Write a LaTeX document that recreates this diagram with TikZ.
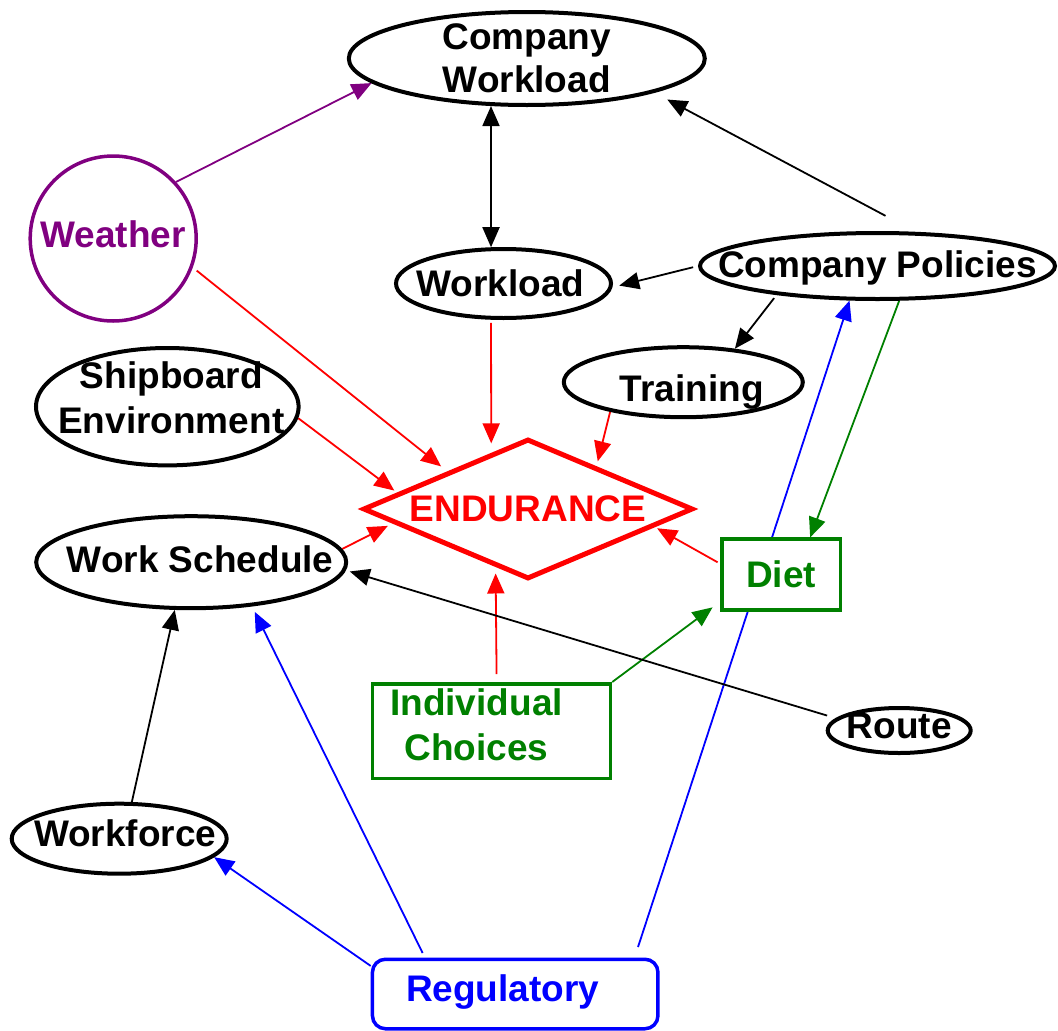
\documentclass[tikz,border=0pt]{standalone}
\usepackage{fontspec}
\setmainfont{Liberation Sans}
\usetikzlibrary{shapes.geometric,arrows.meta,backgrounds}
\definecolor{cpurple}{RGB}{128,0,128}
\definecolor{cgreen}{RGB}{0,128,0}
\definecolor{cblue}{RGB}{0,0,255}
\definecolor{cred}{RGB}{255,0,0}
\begin{document}
\begin{tikzpicture}[x=1pt,y=-1pt,
  ell/.style={draw, ellipse, line width=4pt, inner sep=0pt, fill=white},
  boxn/.style={draw, rectangle, line width=3.5pt, inner sep=0pt, fill=white},
  txt/.style={font=\bfseries\fontsize{37}{45}\selectfont, align=center, inner sep=0pt},
  conn/.style={line width=1.8pt, -{Triangle[length=20pt,width=17pt]}},
  both/.style={line width=1.8pt, {Triangle[length=20pt,width=17pt]}-{Triangle[length=20pt,width=17pt]}}
]
\useasboundingbox (0,0) rectangle (1058,1031);

% nodes
\node[ell, minimum width=356pt, minimum height=93pt] (cw) at (526.8,58.5) {};
\node[txt, font=\bfseries\fontsize{37}{43.3}\selectfont] (cwt) at (cw.center) {Company\\Workload};

\node[ell, draw=cpurple, line width=3.5pt, minimum width=166pt, minimum height=165pt] (wea) at (113.2,238.5) {};
\node[txt, text=cpurple, yshift=4pt] (weat) at (wea.center) {Weather};

\node[ell, minimum width=215pt, minimum height=69pt] (wl) at (503.5,283.5) {};
\node[txt, xshift=-3pt] (wlt) at (wl.center) {Workload};

\node[ell, minimum width=355pt, minimum height=66pt] (cp) at (877.5,266) {};
\node[txt, yshift=-2pt] (cpt) at (cp.center) {Company Policies};

\node[ell, minimum width=239pt, minimum height=70pt] (tr) at (683.3,382.2) {};
\node[txt, xshift=8.5pt, yshift=-9.5pt] (trt) at (tr.center) {Training};

\node[ell, minimum width=262.6pt, minimum height=117.4pt] (sh) at (167.3,406.7) {};
\node[txt, xshift=4pt, yshift=9pt] (sht) at (sh.center) {Shipboard\\Environment};

\node[draw=cred, diamond, line width=5pt, minimum width=330pt, minimum height=140pt, inner sep=0pt, fill=white] (end) at (528,509) {};
\node[txt, text=cred] (endt) at (end.center) {ENDURANCE};

\node[ell, minimum width=310pt, minimum height=92pt] (ws) at (191.2,562.2) {};
\node[txt, xshift=9pt, yshift=2.5pt] (wst) at (ws.center) {Work Schedule};

\node[boxn, draw=cgreen, minimum width=118.5pt, minimum height=70.6pt] (diet) at (781.2,574.5) {};
\node[txt, text=cgreen] (dietx) at (diet.center) {Diet};

\node[boxn, draw=cgreen, minimum width=238pt, minimum height=94.5pt] (ic) at (491.5,731) {};
\node[txt, text=cgreen, xshift=-15pt, yshift=6pt] (ict) at (ic.center) {Individual\\Choices};

\node[ell, minimum width=143pt, minimum height=45pt] (route) at (899.2,730.5) {};
\node[txt, yshift=4.5pt] (routet) at (route.center) {Route};

\node[ell, minimum width=215pt, minimum height=70pt] (wf) at (119.2,838.7) {};
\node[txt, xshift=6pt, yshift=5pt] (wft) at (wf.center) {Workforce};

\node[boxn, draw=cblue, rounded corners=13pt, minimum width=285.5pt, minimum height=69.5pt] (reg) at (515.2,994) {};
\node[txt, text=cblue, xshift=-12.5pt, yshift=2pt] (regt) at (reg.center) {Regulatory};

% connectors
\begin{scope}[on background layer]
\draw[conn, color=cpurple] (wea.42) -- (cw.189);
\draw[both] (cw.233) -- (wl.109);
\draw[conn, shorten <=34pt, shorten >=14.5pt] (cp.42) -- (cw.345.5);
\draw[conn, shorten <=5pt, shorten >=7pt] (cp.180) -- (wl.358);
\draw[conn, shorten <=4pt] (cp.196) -- (tr.33);

\draw[conn, color=cred, shorten <=5pt, shorten >=8pt] (wea.340) -- (end.155);
\draw[conn, color=cred, shorten <=3pt, shorten >=9pt] (wl.251) -- (end.123.5);
\draw[conn, color=cred, shorten >=5pt] (tr.202) -- (end.32);
\draw[conn, color=cred, shorten >=4pt] (sh.355) -- (end.173.3);
\draw[conn, color=cred, shorten >=6pt] (ws.5) -- (end.186.4);
\draw[conn, color=cred, shorten <=3pt, shorten >=3pt] (diet.170) -- (end.352.5);
\draw[conn, color=cred, shorten <=8pt, shorten >=6pt] (ic.84) -- (end.241);

\draw[conn, color=cgreen] (cp.302) -- (diet.52);
\draw[conn, color=cgreen, shorten >=9.5pt] (ic.north east) -- (diet.204);

\draw[conn, color=cblue, shorten <=11pt] (reg.17.4) -- (cp.231.5);
\draw[conn, color=cblue, shorten <=5pt, shorten >=6pt] (reg.158.7) -- (ws.324.3);
\draw[conn, color=cblue] (reg.169.3) -- (wf.349);

\draw[conn] (wf.71) -- (ws.251.7);
\draw[conn, shorten <=9pt, shorten >=4pt] (route.169.4) -- (ws.357);
\end{scope}
\end{tikzpicture}
\end{document}
